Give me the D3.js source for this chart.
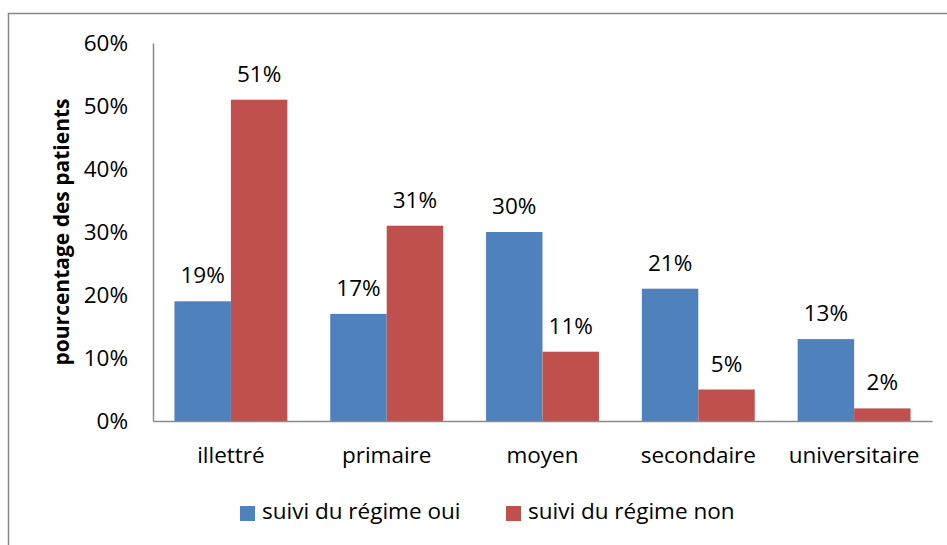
<!DOCTYPE html>
<html>
<head>
<meta charset="utf-8">
<script src="https://cdn.jsdelivr.net/npm/d3@7"></script>
<style>
  body { margin: 0; background: #fff; }
  svg text { font-family: "Open Sans", sans-serif; fill: #000; }
</style>
</head>
<body>
<div id="graph"></div>
<script>
// Chart data
const categories = ["illettré", "primaire", "moyen", "secondaire", "universitaire"];
const seriesNames = ["suivi du régime oui", "suivi du régime non"];
const valuesOui = [19, 17, 30, 21, 13];
const valuesNon = [51, 31, 11, 5, 2];
const yTicks = [0, 10, 20, 30, 40, 50, 60];
const colors = ["#4F81BD", "#C0504D"];

const width = 947, height = 545;
const margin = { left: 153, right: 15, top: 43, bottom: 124 };
const fontSize = 22.5;

const svg = d3.select("#graph").append("svg")
    .attr("width", width)
    .attr("height", height);

// Outer chart frame (runs off the right and bottom edges)
svg.append("rect")
    .attr("x", 8.5).attr("y", 13.5)
    .attr("width", 1000).attr("height", 600)
    .attr("fill", "none")
    .attr("stroke", "#878787")
    .attr("stroke-width", 1.5);

const x0 = d3.scaleBand()
    .domain(categories)
    .range([margin.left, width - margin.right])
    .paddingInner(0)
    .paddingOuter(0);

const x1 = d3.scaleBand()
    .domain([0, 1])
    .range([0, x0.bandwidth()])
    .paddingOuter(0.38)
    .paddingInner(0);

const y = d3.scaleLinear()
    .domain([0, 60])
    .range([height - margin.bottom, margin.top]);

// Build grouped rows from the arrays
const rows = categories.map((c, i) => ({ cat: c, vals: [valuesOui[i], valuesNon[i]] }));

const groups = svg.append("g").selectAll("g")
    .data(rows)
    .join("g")
    .attr("transform", d => `translate(${x0(d.cat)},0)`);

groups.selectAll("rect")
    .data(d => d.vals.map((v, k) => ({ k, v })))
    .join("rect")
    .attr("x", d => x1(d.k))
    .attr("y", d => y(d.v))
    .attr("width", x1.bandwidth())
    .attr("height", d => y(0) - y(d.v))
    .attr("fill", d => colors[d.k]);

// Value labels above bars
groups.selectAll("text")
    .data(d => d.vals.map((v, k) => ({ k, v })))
    .join("text")
    .attr("x", d => x1(d.k) + x1.bandwidth() / 2)
    .attr("y", d => y(d.v) - 18)
    .attr("text-anchor", "middle")
    .attr("font-size", fontSize)
    .text(d => d.v + "%");

// Y axis
const leftAxis = svg.append("g")
    .attr("transform", `translate(${margin.left},0)`)
    .call(d3.axisLeft(y).tickValues(yTicks).tickFormat(d => d + "%").tickSize(0).tickPadding(25));
leftAxis.select(".domain").attr("stroke", "#8a8a8a").attr("stroke-width", 1.5);
leftAxis.selectAll("text").attr("font-size", fontSize).attr("font-family", null);

// X axis
const bottomAxis = svg.append("g")
    .attr("transform", `translate(0,${height - margin.bottom})`)
    .call(d3.axisBottom(x0).tickSize(0).tickPadding(26));
bottomAxis.select(".domain").attr("stroke", "#8a8a8a").attr("stroke-width", 1.5);
bottomAxis.selectAll("text").attr("font-size", fontSize).attr("font-family", null);

// Y axis title
svg.append("text")
    .attr("transform", `translate(69, ${(margin.top + height - margin.bottom) / 2}) rotate(-90)`)
    .attr("text-anchor", "middle")
    .attr("font-size", 21)
    .attr("font-weight", "bold")
    .text("pourcentage des patients");

// Legend
const legendX = [240, 506];
const legend = svg.append("g").selectAll("g")
    .data(seriesNames)
    .join("g")
    .attr("transform", (d, i) => `translate(${legendX[i]}, 506)`);
legend.append("rect")
    .attr("width", 15).attr("height", 15)
    .attr("fill", (d, i) => colors[i]);
legend.append("text")
    .attr("x", 22).attr("y", 13)
    .attr("font-size", fontSize)
    .text(d => d);
</script>
</body>
</html>
